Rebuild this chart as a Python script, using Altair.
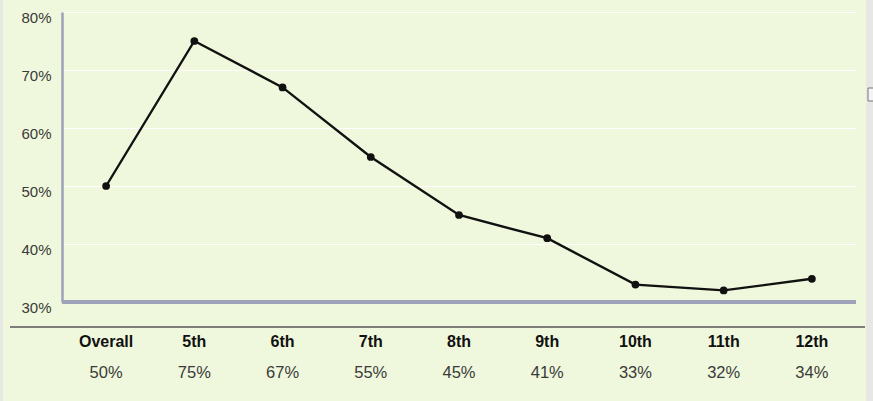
import altair as alt
import pandas as pd

# Share of students by grade
grades = ["Overall", "5th", "6th", "7th", "8th", "9th", "10th", "11th", "12th"]
shares = [50, 75, 67, 55, 45, 41, 33, 32, 34]

df = pd.DataFrame({"grade": grades, "share": shares})
df["label"] = df["share"].astype(str) + "%"

W, H = 794, 290
FONT = "Liberation Sans Narrow, Arial Narrow, Liberation Sans, sans-serif"

x_enc = alt.X("grade:N", sort=grades, axis=None,
              scale=alt.Scale(type="point", padding=0.5))
y_scale = alt.Scale(domain=[30, 80], nice=False, zero=False)

base = alt.Chart(df)

line = base.mark_line(color="#111111", strokeWidth=2.4).encode(
    x=x_enc,
    y=alt.Y("share:Q", scale=y_scale,
            axis=alt.Axis(values=[30, 40, 50, 60, 70, 80], title=None,
                          labelExpr="datum.value + '%'", ticks=False,
                          labelPadding=11, labelOffset=5,
                          labelFont=FONT, labelFontSize=15, labelColor="#3a3a3a",
                          domain=True, domainColor="#9ea2b8", domainWidth=2.5,
                          grid=True, gridColor="#ffffff", gridWidth=1.2)),
)

dots = base.mark_circle(color="#111111", opacity=1, size=60).encode(
    x=x_enc, y=alt.Y("share:Q", scale=y_scale)
)

baseline = alt.Chart(pd.DataFrame({"v": [30]})).mark_rule(
    color="#9ea2b8", strokeWidth=4
).encode(y=alt.Y("v:Q", scale=y_scale), x=alt.value(0), x2=alt.value(W))

divider = alt.Chart(pd.DataFrame({"v": [0]})).mark_rule(
    color="#555555", strokeWidth=1.5
).encode(x=alt.value(-52), x2=alt.value(803), y=alt.value(315))

cat_text = base.mark_text(font=FONT, fontSize=16, fontWeight="bold",
                          color="#111111", baseline="middle").encode(
    x=x_enc, y=alt.value(330), text="grade:N"
)

val_text = base.mark_text(font=FONT, fontSize=16.5, color="#3a3a3a",
                          baseline="middle").encode(
    x=x_enc, y=alt.value(361), text="label:N"
)

# grey margins at the page edges
edges = pd.DataFrame({"a": [-62, 804], "b": [-59, 811]})
edge_rects = alt.Chart(edges).mark_rect(color="#e7e8e4").encode(
    x=alt.X("a:Q", scale=None), x2="b:Q",
    y=alt.value(-12), y2=alt.value(389)
)
box = alt.Chart(pd.DataFrame({"v": [0]})).mark_rect(
    fill="#f4f4f4", stroke="#777777", strokeWidth=1
).encode(x=alt.value(806), x2=alt.value(812), y=alt.value(76), y2=alt.value(89))

chart = alt.layer(
    edge_rects, box, baseline, divider, line, dots, cat_text, val_text
).properties(
    width=W, height=H,
    autosize=alt.AutoSizeParams(type="none"),
    padding={"left": 62, "top": 12, "right": 17, "bottom": 99},
    background="#eff8dc",
).configure_view(strokeWidth=0)

chart.save("out.html", embed_options={"renderer": "svg", "actions": False})
